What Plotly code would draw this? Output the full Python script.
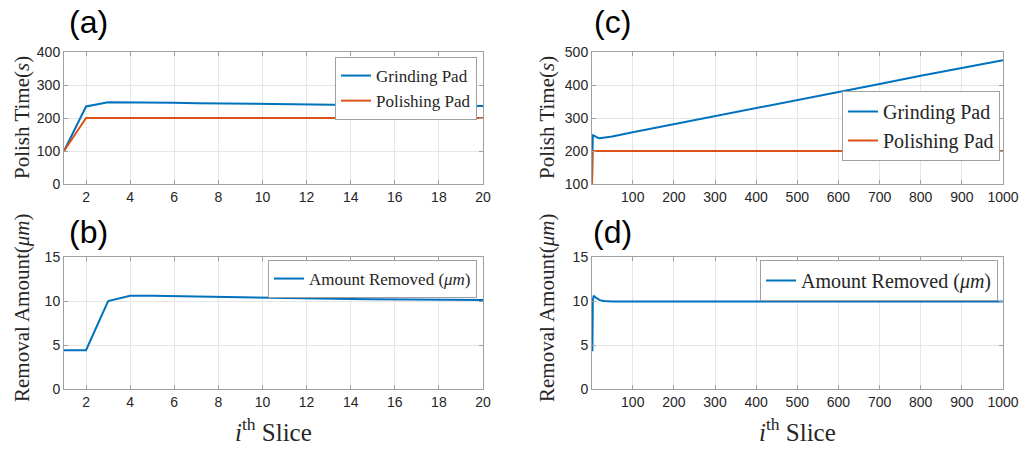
import plotly.graph_objects as go

# ---- data ----
slices_a = list(range(1, 21))
grinding_a = [100, 235, 248, 248, 247, 246, 245, 244, 243, 242, 241, 240.5, 240, 239.5, 239, 238.5, 238, 237.5, 237, 236.5]
polishing_a = [100] + [200] * 19
removed_b = [4.4, 4.4, 10.0, 10.6, 10.6, 10.55, 10.5, 10.45, 10.4, 10.35, 10.3, 10.27, 10.25, 10.22, 10.2, 10.18, 10.16, 10.14, 10.12, 10.1]

slices_c = [1, 2, 3, 4, 5, 10, 15, 20, 30, 50, 100, 200, 300, 400, 500, 600, 700, 800, 900, 1000]
grinding_c = [100, 235, 248, 248, 247, 243, 240, 239, 240, 244, 257, 281, 305, 330, 354, 379, 403, 428, 451, 475]
slices_c_pol = [1, 2, 1000]
polishing_c = [100, 200, 200]
slices_d = [1, 2, 3, 4, 5, 10, 20, 30, 50, 100, 1000]
removed_d = [4.4, 4.4, 10.0, 10.6, 10.6, 10.4, 10.1, 10.0, 9.95, 9.95, 9.95]

ticks_a = list(range(2, 21, 2))
ticks_c = list(range(100, 1001, 100))

BLUE = "#0072BD"
ORANGE = "#D95319"
W, H = 1031, 450
ML, MR, MT, MB = 40, 20, 40, 40  # fixed margins
PW, PH = W - ML - MR, H - MT - MB

def px_x(p):
    return (p - ML) / PW

def px_y(p):
    return 1 - (p - MT) / PH

fig = go.Figure()

fig.add_trace(go.Scatter(x=slices_a, y=grinding_a, mode="lines", name="Grinding Pad",
                         line=dict(color=BLUE, width=2), xaxis="x", yaxis="y", legend="legend"))
fig.add_trace(go.Scatter(x=slices_a, y=polishing_a, mode="lines", name="Polishing Pad",
                         line=dict(color=ORANGE, width=2), xaxis="x", yaxis="y", legend="legend"))
fig.add_trace(go.Scatter(x=slices_a, y=removed_b, mode="lines", name="Amount Removed (<i>μm</i>)",
                         line=dict(color=BLUE, width=2), xaxis="x2", yaxis="y2", legend="legend2"))
fig.add_trace(go.Scatter(x=slices_c, y=grinding_c, mode="lines", name="Grinding Pad",
                         line=dict(color=BLUE, width=2), xaxis="x3", yaxis="y3", legend="legend3"))
fig.add_trace(go.Scatter(x=slices_c_pol, y=polishing_c, mode="lines", name="Polishing Pad",
                         line=dict(color=ORANGE, width=2), xaxis="x3", yaxis="y3", legend="legend3"))
fig.add_trace(go.Scatter(x=slices_d, y=removed_d, mode="lines", name="Amount Removed (<i>μm</i>)",
                         line=dict(color=BLUE, width=2), xaxis="x4", yaxis="y4", legend="legend4"))

LEFT = [px_x(64), px_x(483)]
RIGHT = [px_x(592), px_x(1003)]
TOP = [px_y(184), px_y(52)]
BOT = [px_y(389), px_y(257)]

SERIF = "Liberation Serif"
tickfont = dict(family="Arial", size=14, color="#262626")
common = dict(showline=True, linecolor="#a0a0a0", linewidth=1, mirror="ticks",
              ticks="inside", ticklen=4, tickcolor="#a0a0a0",
              showgrid=True, gridcolor="#e6e6e6", gridwidth=1, zeroline=False,
              tickfont=tickfont, automargin=False)

fig.update_layout(
    width=W, height=H, margin=dict(l=ML, r=MR, t=MT, b=MB, autoexpand=False),
    paper_bgcolor="white", plot_bgcolor="white",
    font=dict(family=SERIF, color="#262626"),
    xaxis=dict(domain=LEFT, anchor="y", range=[1, 20], tickvals=ticks_a, **common),
    yaxis=dict(domain=TOP, anchor="x", range=[0, 400], tickvals=[0, 100, 200, 300, 400], **common),
    xaxis2=dict(domain=LEFT, anchor="y2", range=[1, 20], tickvals=ticks_a, **common),
    yaxis2=dict(domain=BOT, anchor="x2", range=[0, 15], tickvals=[0, 5, 10, 15], **common),
    xaxis3=dict(domain=RIGHT, anchor="y3", range=[1, 1000], tickvals=ticks_c, **common),
    yaxis3=dict(domain=TOP, anchor="x3", range=[100, 500], tickvals=[100, 200, 300, 400, 500], **common),
    xaxis4=dict(domain=RIGHT, anchor="y4", range=[1, 1000], tickvals=ticks_c, **common),
    yaxis4=dict(domain=BOT, anchor="x4", range=[0, 15], tickvals=[0, 5, 10, 15], **common),
    showlegend=True,
)

leg_common = dict(bgcolor="white", bordercolor="#a0a0a0", borderwidth=1,
                  xanchor="right", yanchor="top", tracegroupgap=0, itemwidth=30)
fig.update_layout(
    legend=dict(x=px_x(477), y=px_y(57), font=dict(family=SERIF, size=17, color="#262626"), **leg_common),
    legend2=dict(x=px_x(477), y=px_y(260), font=dict(family=SERIF, size=17, color="#262626"), **leg_common),
    legend3=dict(x=px_x(1000), y=px_y(91), font=dict(family=SERIF, size=20, color="#262626"), **leg_common),
    legend4=dict(x=px_x(998), y=px_y(260), font=dict(family=SERIF, size=20, color="#262626"), **leg_common),
)

serif = dict(family=SERIF, size=21, color="#262626")
annos = [
    dict(text="(a)", x=px_x(88), y=px_y(22), font=dict(family="Arial", size=32, color="black")),
    dict(text="(b)", x=px_x(88), y=px_y(232), font=dict(family="Arial", size=32, color="black")),
    dict(text="(c)", x=px_x(612), y=px_y(22), font=dict(family="Arial", size=32, color="black")),
    dict(text="(d)", x=px_x(612), y=px_y(232), font=dict(family="Arial", size=32, color="black")),
    dict(text="Polish Time(<i>s</i>)", x=px_x(22), y=px_y(118), textangle=-90, font=serif),
    dict(text="Polish Time(<i>s</i>)", x=px_x(547), y=px_y(118), textangle=-90, font=serif),
    dict(text="Removal Amount(<i>μm</i>)", x=px_x(22), y=px_y(308), textangle=-90, font=serif),
    dict(text="Removal Amount(<i>μm</i>)", x=px_x(547), y=px_y(308), textangle=-90, font=serif),
    dict(text="<i>i</i><sup>th</sup> Slice", x=px_x(273), y=px_y(430), font=dict(family=SERIF, size=25, color="#262626")),
    dict(text="<i>i</i><sup>th</sup> Slice", x=px_x(797), y=px_y(430), font=dict(family=SERIF, size=25, color="#262626")),
]
for a in annos:
    fig.add_annotation(xref="paper", yref="paper", showarrow=False, xanchor="center", yanchor="middle", **a)

fig.write_html("out.html")
